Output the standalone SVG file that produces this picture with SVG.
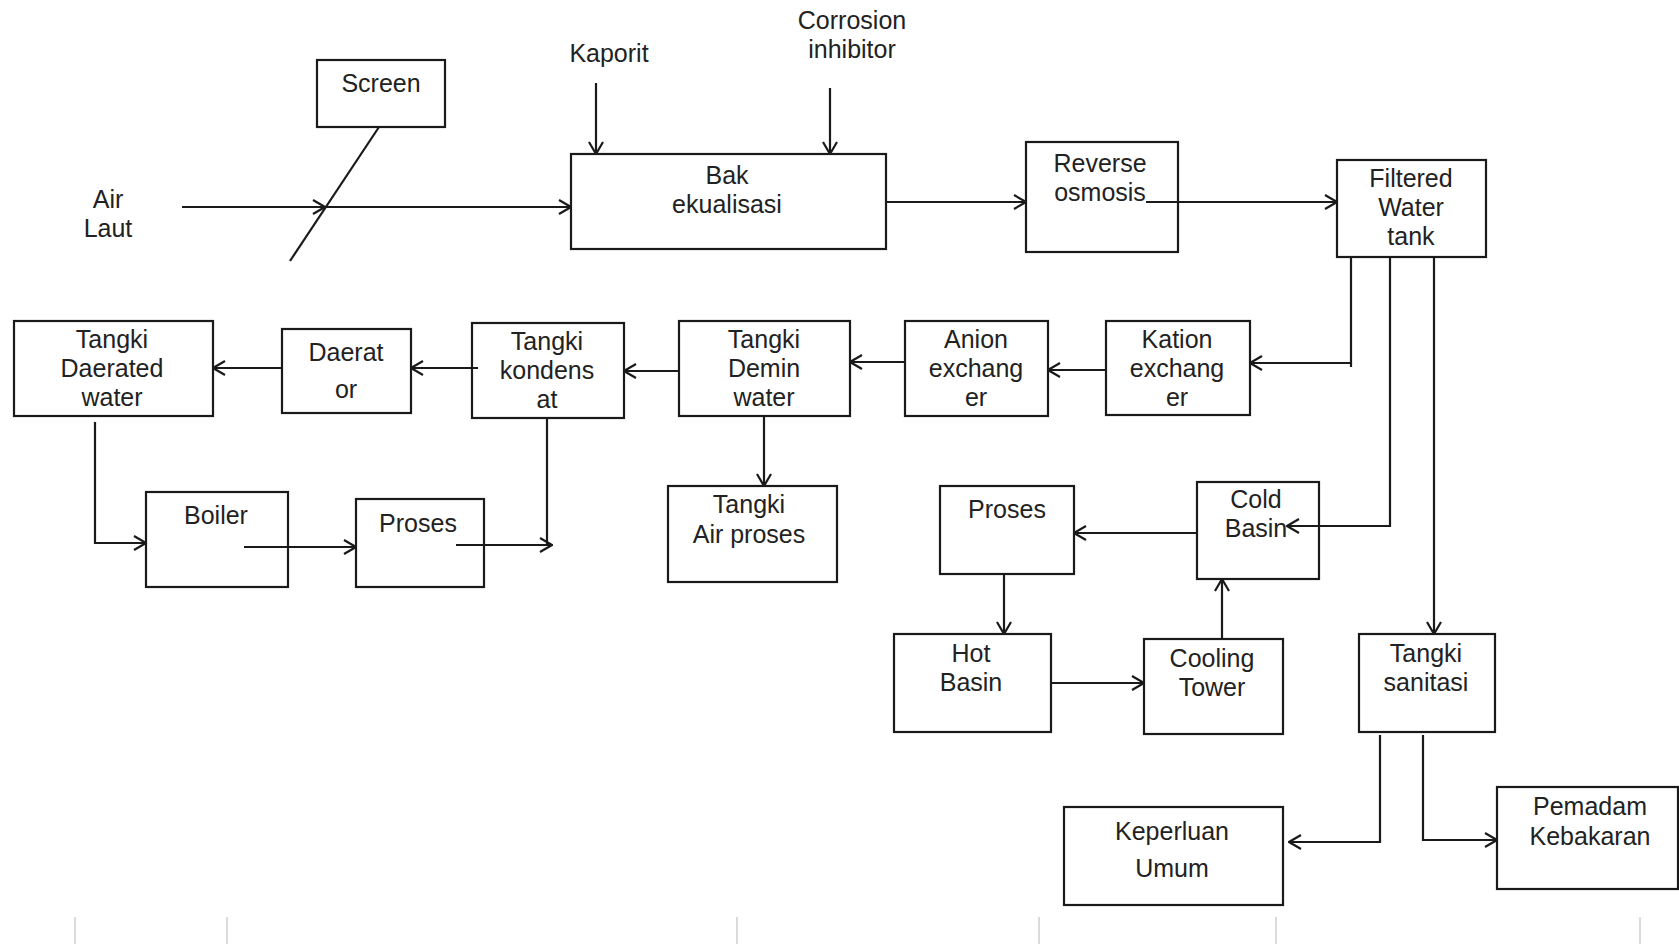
<svg xmlns="http://www.w3.org/2000/svg" width="1679" height="944" viewBox="0 0 1679 944">
<style>
  .box { fill: #fff; stroke: #1a1a1a; stroke-width: 2.2; }
  .t { font-family: "Liberation Sans", Arial, sans-serif; font-size: 25px; fill: #222; text-anchor: middle; }
  .c { fill: none; stroke: #1a1a1a; stroke-width: 2.2; }
  .a { marker-end: url(#arr); }
  .tick { stroke: #cfcfcf; stroke-width: 1.5; }
</style>
<defs>
  <marker id="arr" viewBox="0 0 14 16" refX="13" refY="8" markerWidth="14" markerHeight="16" markerUnits="userSpaceOnUse" orient="auto">
    <path d="M1,1 L13,8 L1,15" fill="none" stroke="#1a1a1a" stroke-width="2.2"/>
  </marker>
</defs>
<rect width="1679" height="944" fill="#fff"/>

<g id="air-laut">
  <text class="t" x="108" y="208">Air</text>
  <text class="t" x="108" y="237">Laut</text>
</g>
<g id="kaporit"><text class="t" x="609" y="62">Kaporit</text></g>
<g id="corrosion-inhibitor">
  <text class="t" x="852" y="29">Corrosion</text>
  <text class="t" x="852" y="58">inhibitor</text>
</g>

<g id="screen">
  <rect class="box" x="317" y="60" width="128" height="67"/>
  <text class="t" x="381" y="92">Screen</text>
</g>
<g id="bak-ekualisasi">
  <rect class="box" x="571" y="154" width="315" height="95"/>
  <text class="t" x="727" y="184">Bak</text>
  <text class="t" x="727" y="213">ekualisasi</text>
</g>
<g id="reverse-osmosis">
  <rect class="box" x="1026" y="142" width="152" height="110"/>
  <text class="t" x="1100" y="172">Reverse</text>
  <text class="t" x="1100" y="201">osmosis</text>
</g>
<g id="filtered-water-tank">
  <rect class="box" x="1337" y="160" width="149" height="97"/>
  <text class="t" x="1411" y="187">Filtered</text>
  <text class="t" x="1411" y="216">Water</text>
  <text class="t" x="1411" y="245">tank</text>
</g>
<g id="kation-exchanger">
  <rect class="box" x="1106" y="321" width="144" height="94"/>
  <text class="t" x="1177" y="348">Kation</text>
  <text class="t" x="1177" y="377">exchang</text>
  <text class="t" x="1177" y="406">er</text>
</g>
<g id="anion-exchanger">
  <rect class="box" x="905" y="321" width="143" height="95"/>
  <text class="t" x="976" y="348">Anion</text>
  <text class="t" x="976" y="377">exchang</text>
  <text class="t" x="976" y="406">er</text>
</g>
<g id="tangki-demin-water">
  <rect class="box" x="679" y="321" width="171" height="95"/>
  <text class="t" x="764" y="348">Tangki</text>
  <text class="t" x="764" y="377">Demin</text>
  <text class="t" x="764" y="406">water</text>
</g>
<g id="tangki-kondensat">
  <rect class="box" x="472" y="323" width="152" height="95"/>
  <text class="t" x="547" y="350">Tangki</text>
  <text class="t" x="547" y="379">kondens</text>
  <text class="t" x="547" y="408">at</text>
</g>
<g id="daerator">
  <rect class="box" x="282" y="329" width="129" height="84"/>
  <text class="t" x="346" y="361">Daerat</text>
  <text class="t" x="346" y="398">or</text>
</g>
<g id="tangki-daerated-water">
  <rect class="box" x="14" y="321" width="199" height="95"/>
  <text class="t" x="112" y="348">Tangki</text>
  <text class="t" x="112" y="377">Daerated</text>
  <text class="t" x="112" y="406">water</text>
</g>
<g id="boiler">
  <rect class="box" x="146" y="492" width="142" height="95"/>
  <text class="t" x="216" y="524">Boiler</text>
</g>
<g id="proses-1">
  <rect class="box" x="356" y="499" width="128" height="88"/>
  <text class="t" x="418" y="532">Proses</text>
</g>
<g id="tangki-air-proses">
  <rect class="box" x="668" y="486" width="169" height="96"/>
  <text class="t" x="749" y="513">Tangki</text>
  <text class="t" x="749" y="543">Air proses</text>
</g>
<g id="proses-2">
  <rect class="box" x="940" y="486" width="134" height="88"/>
  <text class="t" x="1007" y="518">Proses</text>
</g>
<g id="cold-basin">
  <rect class="box" x="1197" y="482" width="122" height="97"/>
  <text class="t" x="1256" y="508">Cold</text>
  <text class="t" x="1256" y="537">Basin</text>
</g>
<g id="hot-basin">
  <rect class="box" x="894" y="634" width="157" height="98"/>
  <text class="t" x="971" y="662">Hot</text>
  <text class="t" x="971" y="691">Basin</text>
</g>
<g id="cooling-tower">
  <rect class="box" x="1144" y="639" width="139" height="95"/>
  <text class="t" x="1212" y="667">Cooling</text>
  <text class="t" x="1212" y="696">Tower</text>
</g>
<g id="tangki-sanitasi">
  <rect class="box" x="1359" y="634" width="136" height="98"/>
  <text class="t" x="1426" y="662">Tangki</text>
  <text class="t" x="1426" y="691">sanitasi</text>
</g>
<g id="keperluan-umum">
  <rect class="box" x="1064" y="807" width="219" height="98"/>
  <text class="t" x="1172" y="840">Keperluan</text>
  <text class="t" x="1172" y="877">Umum</text>
</g>
<g id="pemadam-kebakaran">
  <rect class="box" x="1497" y="787" width="181" height="102"/>
  <text class="t" x="1590" y="815">Pemadam</text>
  <text class="t" x="1590" y="845">Kebakaran</text>
</g>

<g id="connectors">
  <line class="c" x1="379" y1="127" x2="290" y2="261"/>
  <line class="c a" x1="182" y1="207" x2="325" y2="207"/>
  <line class="c a" x1="325" y1="207" x2="571" y2="207"/>
  <line class="c a" x1="596" y1="83" x2="596" y2="154"/>
  <line class="c a" x1="830" y1="88" x2="830" y2="154"/>
  <line class="c a" x1="886" y1="202" x2="1026" y2="202"/>
  <line class="c a" x1="1146" y1="202" x2="1337" y2="202"/>
  <polyline class="c a" points="1351,257 1351,363 1250,363"/>
  <line class="c" x1="1351" y1="363" x2="1351" y2="367"/>
  <polyline class="c a" points="1390,257 1390,526 1287,526"/>
  <line class="c a" x1="1434" y1="257" x2="1434" y2="634"/>
  <line class="c a" x1="1106" y1="370" x2="1048" y2="370"/>
  <line class="c a" x1="905" y1="362" x2="850" y2="362"/>
  <line class="c a" x1="679" y1="371" x2="624" y2="371"/>
  <line class="c a" x1="764" y1="416" x2="764" y2="486"/>
  <line class="c a" x1="478" y1="368" x2="411" y2="368"/>
  <line class="c a" x1="282" y1="368" x2="213" y2="368"/>
  <polyline class="c a" points="95,422 95,543 146,543"/>
  <line class="c a" x1="244" y1="547" x2="356" y2="547"/>
  <line class="c" x1="547" y1="418" x2="547" y2="545"/>
  <line class="c a" x1="456" y1="545" x2="552" y2="545"/>
  <line class="c a" x1="1197" y1="533" x2="1074" y2="533"/>
  <line class="c a" x1="1004" y1="574" x2="1004" y2="634"/>
  <line class="c a" x1="1051" y1="683" x2="1144" y2="683"/>
  <line class="c a" x1="1222" y1="639" x2="1222" y2="579"/>
  <polyline class="c a" points="1380,735 1380,842 1289,842"/>
  <polyline class="c a" points="1423,735 1423,840 1497,840"/>
</g>

<g id="bottom-ticks">
  <line class="tick" x1="75" y1="917" x2="75" y2="944"/>
  <line class="tick" x1="227" y1="917" x2="227" y2="944"/>
  <line class="tick" x1="737" y1="917" x2="737" y2="944"/>
  <line class="tick" x1="1039" y1="917" x2="1039" y2="944"/>
  <line class="tick" x1="1276" y1="917" x2="1276" y2="944"/>
  <line class="tick" x1="1640" y1="917" x2="1640" y2="944"/>
</g>
</svg>
